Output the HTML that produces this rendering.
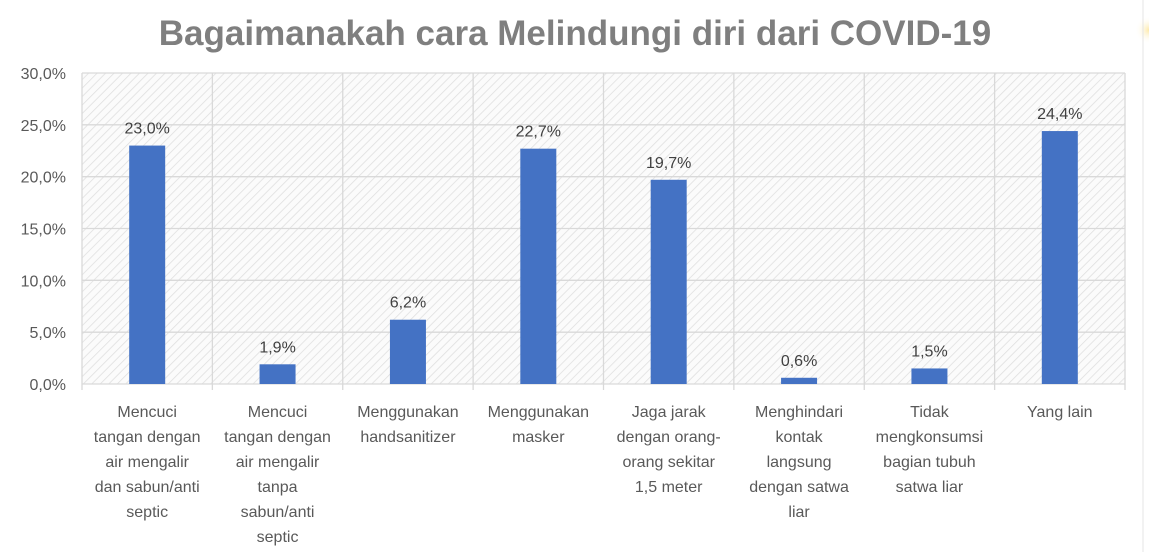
<!DOCTYPE html>
<html><head><meta charset="utf-8"><style>
body{margin:0;background:#fff;width:1149px;height:552px;overflow:hidden;font-family:"Liberation Sans",sans-serif}
</style></head><body>
<svg id="chart" width="1149" height="552" xmlns="http://www.w3.org/2000/svg">
<defs>
<pattern id="hatch" width="6" height="6" patternUnits="userSpaceOnUse" patternTransform="rotate(45)">
<rect width="6" height="6" fill="#fbfbfb"/><line x1="0" y1="0" x2="0" y2="6" stroke="#dedede" stroke-width="1.5"/>
</pattern>
<radialGradient id="glow"><stop offset="0" stop-color="#fde9a8"/><stop offset="1" stop-color="#fff" stop-opacity="0"/></radialGradient>
</defs>
<circle cx="1149" cy="30" r="14" fill="url(#glow)"/>
<line x1="1143" y1="0" x2="1143" y2="552" stroke="#e4e4e4"/>
<text x="575" y="45" text-anchor="middle" font-size="35" font-weight="bold" fill="#7f7f7f">Bagaimanakah cara Melindungi diri dari COVID-19</text>
<g id="plot"></g>
</svg>
<script>
const categories=[["Mencuci","tangan dengan","air mengalir","dan sabun/anti","septic"],["Mencuci","tangan dengan","air mengalir","tanpa","sabun/anti","septic"],["Menggunakan","handsanitizer"],["Menggunakan","masker"],["Jaga jarak","dengan orang-","orang sekitar","1,5 meter"],["Menghindari","kontak","langsung","dengan satwa","liar"],["Tidak","mengkonsumsi","bagian tubuh","satwa liar"],["Yang lain"]];
const values=[23.0,1.9,6.2,22.7,19.7,0.6,1.5,24.4];
const valueLabels=["23,0%","1,9%","6,2%","22,7%","19,7%","0,6%","1,5%","24,4%"];
const ticks=[0,5,10,15,20,25,30];
const tickLabels=["0,0%","5,0%","10,0%","15,0%","20,0%","25,0%","30,0%"];
const L=82,R=1125,T=73,B=384,maxV=30;
const y=v=>B-(v/maxV)*(B-T);
const bw=(R-L)/categories.length;
const x=i=>L+bw*i;
const g=document.getElementById('plot');
const NS="http://www.w3.org/2000/svg";
function mk(t,a){const e=document.createElementNS(NS,t);for(const k in a)e.setAttribute(k,a[k]);g.appendChild(e);return e;}
const bg=mk('rect',{x:L,y:T,width:R-L,height:B-T,fill:'url(#hatch)'});


ticks.forEach((t,i)=>{
 const ln=mk('line',{x1:L,x2:R,y1:y(t),y2:y(t),stroke:'#d9d9d9','stroke-width':1.3});
 
 
 const tx=mk('text',{x:L-16,y:y(t)+6,'text-anchor':'end','font-size':16,fill:'#595959'});
 tx.textContent=tickLabels[i];
 
 
});
for(let i=0;i<=categories.length;i++){
 const ln=mk('line',{x1:x(i),x2:x(i),y1:T,y2:B+6,stroke:'#d9d9d9','stroke-width':1.3});
 
 
}
values.forEach((v,i)=>{
 const cx=x(i)+bw/2;
 const r=mk('rect',{x:cx-18,y:y(v),width:36,height:B-y(v),fill:'#4472c4'});
 
 
 const t=mk('text',{x:cx,y:y(v)-12,'text-anchor':'middle','font-size':16,fill:'#404040'});
 t.textContent=valueLabels[i];
 
 
 categories[i].forEach((s,j)=>{
  const c=mk('text',{x:cx,y:417+j*25,'text-anchor':'middle','font-size':16,fill:'#595959'});
  c.textContent=s;
  
  
 });
});
</script>
</body></html>
